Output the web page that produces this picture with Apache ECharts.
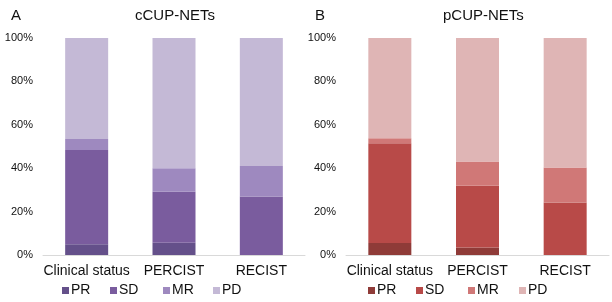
<!DOCTYPE html>
<html>
<head>
<meta charset="utf-8">
<script src="https://cdn.jsdelivr.net/npm/echarts@6/dist/echarts.min.js"></script>
<style>
  html, body { margin: 0; padding: 0; background: #fff; }
  #chart { width: 612px; height: 302px; }
</style>
</head>
<body>
<div id="chart"></div>
<script>
// response categories, values in percent of patients
let categories = ['Clinical status', 'PERCIST', 'RECIST']
let seriesNames = ['PR', 'SD', 'MR', 'PD']

let cPR = [5, 5.7, 0]
let cSD = [43.4, 23.5, 27]
let cMR = [5.1, 10.8, 14]
let cPD = [46.5, 60, 59]

let pPR = [5.5, 3.5, 0]
let pSD = [46, 28.4, 24.2]
let pMR = [2.3, 11.2, 16.1]
let pPD = [46.2, 56.9, 59.7]

let yTicks = [0, 20, 40, 60, 80, 100]

let purple = ['#64508a', '#7a5c9e', '#9e89bf', '#c4b9d6']
let red = ['#8f3b38', '#b84a48', '#d07877', '#dfb5b5']

let font = 'Liberation Sans, Arial, sans-serif'

function makeSeries(data, colors, idx) {
    return data.map(function (d, i) {
        return {
            name: seriesNames[i],
            type: 'bar',
            stack: 'total' + idx,
            xAxisIndex: idx,
            yAxisIndex: idx,
            barWidth: 43,
            itemStyle: {color: colors[i]},
            data: d
        }
    })
}

function xAx(idx) {
    return {
        type: 'category',
        gridIndex: idx,
        data: categories,
        axisLine: {lineStyle: {color: '#d9d9d9', width: 1}},
        axisTick: {show: false},
        axisLabel: {color: '#111', fontFamily: font, fontSize: 14, margin: 9, interval: 0}
    }
}

function yAx(idx) {
    return {
        type: 'value',
        gridIndex: idx,
        min: yTicks[0],
        max: yTicks[yTicks.length - 1],
        interval: 20,
        axisLine: {show: false},
        axisTick: {show: false},
        splitLine: {show: false},
        axisLabel: {color: '#111', fontFamily: font, fontSize: 11, margin: 10,
            formatter: function (v) { return v + '%' }}
    }
}

let titleStyle = {fontFamily: font, fontSize: 15, fontWeight: 'normal', color: '#111'}

let chart = echarts.init(document.getElementById('chart'))
let option = {
    animation: false,
    backgroundColor: '#fff',
    title: [
        {text: 'A', left: 6, top: 3, textStyle: titleStyle},
        {text: 'cCUP-NETs', left: 130, top: 3, textStyle: titleStyle},
        {text: 'B', left: 310, top: 3, textStyle: titleStyle},
        {text: 'pCUP-NETs', left: 438, top: 3, textStyle: titleStyle}
    ],
    grid: [
        {left: 43, top: 38, width: 262, height: 217},
        {left: 346, top: 38, width: 263, height: 217}
    ],
    xAxis: [xAx(0), xAx(1)],
    yAxis: [yAx(0), yAx(1)],
    series: makeSeries([cPR, cSD, cMR, cPD], purple, 0).concat(makeSeries([pPR, pSD, pMR, pPD], red, 1))
}
chart.setOption(option)

// legends under each panel
let lg = []
let lxA = [62, 110, 163, 213]
let lxB = [368, 416, 468, 519]
function addLegend(xs, colors) {
    seriesNames.forEach(function (n, i) {
        lg.push({type: 'rect', left: xs[i], top: 287, shape: {width: 7, height: 7}, style: {fill: colors[i]}})
        lg.push({type: 'text', left: xs[i] + 9, top: 283, style: {text: n, font: '14px ' + font, fill: '#111'}})
    })
}
addLegend(lxA, purple)
addLegend(lxB, red)
chart.setOption({graphic: lg})
</script>
</body>
</html>
